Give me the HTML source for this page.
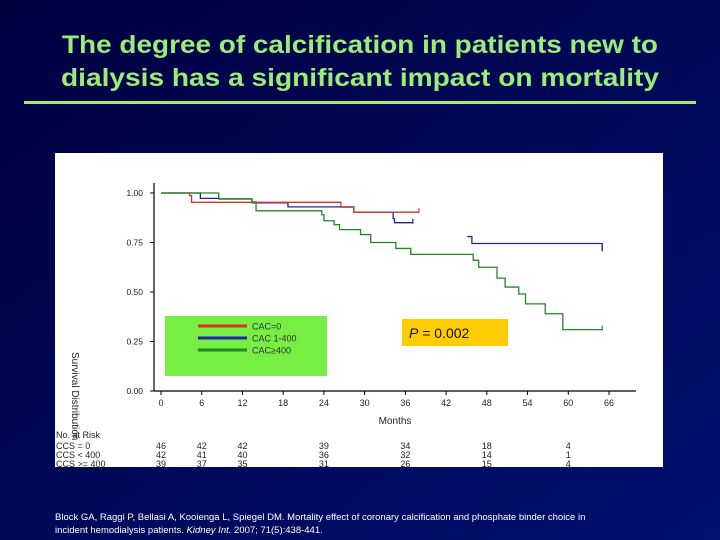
<!DOCTYPE html>
<html><head><meta charset="utf-8"><style>
html,body{margin:0;padding:0;background:#00005a;}
svg{display:block;}
text{font-family:"Liberation Sans",Arial,sans-serif;}
</style></head><body>
<svg id="slide" width="720" height="540" viewBox="0 0 720 540">
<defs><linearGradient id="bg" x1="0" y1="0" x2="1" y2="1"><stop offset="0" stop-color="#000040"/><stop offset="1" stop-color="#00106e"/></linearGradient></defs>
<rect width="720" height="540" fill="url(#bg)"/>
<text x="360" y="53" text-anchor="middle" font-size="25" font-weight="bold" fill="#99ee77" textLength="596" lengthAdjust="spacingAndGlyphs">The degree of calcification in patients new to</text>
<text x="360" y="86" text-anchor="middle" font-size="25" font-weight="bold" fill="#99ee77" textLength="598" lengthAdjust="spacingAndGlyphs">dialysis has a significant impact on mortality</text>
<rect x="24" y="101" width="672" height="3" fill="#99ee77"/>
<rect x="55" y="153" width="608" height="314" fill="#ffffff"/>
<g id="chart"></g>
<text x="55" y="520" font-size="9.5" fill="#ffffff">Block GA, Raggi P, Bellasi A, Kooienga L, Spiegel DM. Mortality effect of coronary calcification and phosphate binder choice in</text>
<text x="55" y="533" font-size="9.5" fill="#ffffff">incident hemodialysis patients. <tspan font-style="italic">Kidney Int.</tspan> 2007; 71(5):438-441.</text>
</svg>
<script>
const xTicks=[0,6,12,18,24,30,36,42,48,54,60,66];
const yTicks=[0,0.25,0.5,0.75,1.0];
const seriesNames=["CAC=0","CAC 1-400","CAC≥400"];
const seriesColors=["#dd3322","#2222aa","#228822"];
const redMonths=[0,4.2,4.5,26.5,28.4,38];
const redSurv=[1.0,0.987,0.953,0.928,0.903,0.903];
const blueMonths=[0,5.8,8.6,13.4,18.7,28.4,34.2,34.4,37.1];
const blueSurv=[1.0,0.973,0.97,0.95,0.93,0.903,0.87,0.85,0.85];
const blue2Months=[45.1,45.8,65];
const blue2Surv=[0.78,0.745,0.71];
const greenMonths=[0,8.5,13.4,14,23.7,24,25.5,26.3,29.4,30.9,34.6,36.8,46,46.8,49.5,50.7,52.7,53.7,56.6,59.2,65];
const greenSurv=[1.0,0.97,0.955,0.91,0.89,0.86,0.84,0.815,0.79,0.75,0.72,0.69,0.66,0.625,0.57,0.525,0.49,0.44,0.39,0.31,0.31];
const riskMonths=[0,6,12,24,36,48,60];
const riskLabels=["CCS = 0","CCS < 400","CCS >= 400"];
const risk0=[46,42,42,39,34,18,4];
const risk1=[42,41,40,36,32,14,1];
const risk2=[39,37,35,31,26,15,4];
const NS="http://www.w3.org/2000/svg";
const g=document.getElementById('chart');
const X=m=>161+m*(448/66);
const Y=s=>391-s*198;
function el(t,a,p){const e=document.createElementNS(NS,t);for(const k in a)e.setAttribute(k,a[k]);(p||g).appendChild(e);return e;}
function txt(x,y,s,a){const e=el('text',Object.assign({x:x,y:y,'font-size':9,fill:'#222'},a||{}));e.textContent=s;return e;}
const ax=el('path',{d:`M154 183 V391 H636`,stroke:'#000',fill:'none','stroke-width':1.2});


yTicks.forEach(v=>{
 const t=el('line',{x1:150,x2:154,y1:Y(v),y2:Y(v),stroke:'#000'});
 
 
 const l=txt(143,Y(v)+3,v.toFixed(2),{'text-anchor':'end','font-size':8.5});
 
 
});
xTicks.forEach(v=>{
 const t=el('line',{x1:X(v),x2:X(v),y1:391,y2:395,stroke:'#000'});
 
 
 const l=txt(X(v),406,String(v),{'text-anchor':'middle','font-size':9});
 
 
});
const xt=txt(395,424,'Months',{'text-anchor':'middle','font-size':10});


const yt=txt(0,0,'Survival Distribution',{'font-size':10,transform:'translate(72,352) rotate(90)'});


function step(ms,ss,col,name){
 let d=`M${X(ms[0])} ${Y(ss[0])}`;
 for(let i=1;i<ms.length;i++){d+=` H${X(ms[i])} V${Y(ss[i])}`;}
 const p=el('path',{d:d,stroke:col,fill:'none','stroke-width':1.3});
 
 
 const e=ms.length-1;
 const c=el('line',{x1:X(ms[e]),x2:X(ms[e]),y1:Y(ss[e])-4,y2:Y(ss[e])+1,stroke:col,'stroke-width':1.2});
 
 
}
step(blueMonths,blueSurv,seriesColors[1],'series-cac-1-400');
step(redMonths,redSurv,seriesColors[0],'series-cac-0');
step(blue2Months,blue2Surv,seriesColors[1],'series-cac-1-400-late');
step(greenMonths,greenSurv,seriesColors[2],'series-cac-400-plus');
const lg=el('rect',{x:165,y:316,width:162,height:60,fill:'#77ee44'});


seriesNames.forEach((n,i)=>{
 const y=326+i*12;
 const l=el('line',{x1:198,x2:247,y1:y,y2:y,stroke:seriesColors[i],'stroke-width':3});
 
 
 const t=txt(252,y+3.5,n,{'font-size':9,fill:'#333'});
 
 
});
const pb=el('rect',{x:402,y:319,width:106,height:27,fill:'#ffcc00'});


const pt=txt(409,338,'',{'font-size':14,fill:'#111'});
pt.innerHTML='<tspan font-style="italic">P</tspan> = 0.002';


const nr=txt(56,438,'No. at Risk',{'font-size':9});


[risk0,risk1,risk2].forEach((row,r)=>{
 const y=449+r*9;
 const l=txt(56,y,riskLabels[r],{'font-size':9});
 
 
 row.forEach((v,i)=>{
  const t=txt(X(riskMonths[i]),y,String(v),{'text-anchor':'middle','font-size':9});
  
  
 });
});
</script>
</body></html>
